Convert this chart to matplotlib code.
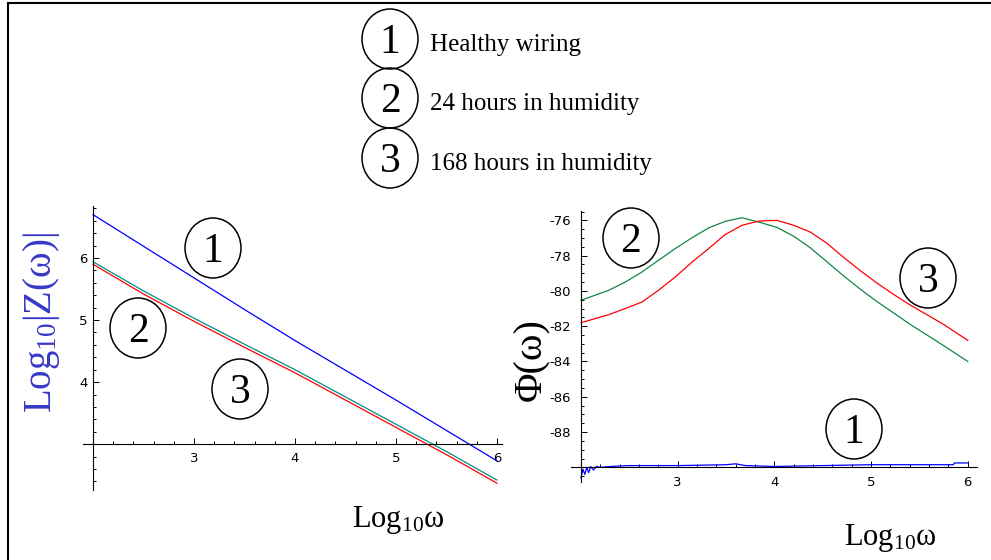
import matplotlib.pyplot as plt
import numpy as np
from matplotlib.patches import Ellipse
from matplotlib.ticker import MultipleLocator

plt.rcParams['axes.unicode_minus'] = False
plt.rcParams['mathtext.fontset'] = 'custom'
plt.rcParams['mathtext.rm'] = 'Liberation Serif'
plt.rcParams['mathtext.it'] = 'Liberation Serif:italic'

# magnitude plot, Log10|Z| vs Log10 w
mag_x = [2.0, 2.5, 3.0, 3.5, 4.0, 4.5, 5.0, 5.5, 6.0]
mag_healthy = [6.70, 6.19, 5.68, 5.17, 4.67, 4.19, 3.71, 3.22, 2.73]
mag_24h = [5.94, 5.47, 5.03, 4.61, 4.20, 3.76, 3.32, 2.88, 2.42]
mag_168h = [5.90, 5.42, 4.98, 4.56, 4.15, 3.71, 3.27, 2.83, 2.37]

# phase plot
ph_x = [2.0, 2.285, 2.458, 2.63, 2.80, 2.975, 3.15, 3.32, 3.49, 3.665, 3.84,
        4.027, 4.20, 4.37, 4.544, 4.716, 4.888, 5.06, 5.233, 5.405, 5.578,
        5.75, 6.0]
ph_24h = [-80.53, -79.97, -79.5, -78.93, -78.27, -77.6, -76.98, -76.43, -76.06,
          -75.85, -76.1, -76.4, -76.9, -77.55, -78.35, -79.15, -79.9, -80.6,
          -81.25, -81.9, -82.5, -83.1, -84.0]
ph_168h = [-81.8, -81.35, -81.0, -80.63, -79.97, -79.21, -78.36, -77.6, -76.81,
           -76.28, -76.04, -76.0, -76.28, -76.66, -77.3, -78.1, -78.85, -79.55,
           -80.2, -80.8, -81.35, -81.9, -82.8]
ph_hx = [2.0, 2.02, 2.04, 2.06, 2.08, 2.10, 2.13, 2.16, 2.2, 2.3, 2.5, 3.0,
         3.5, 3.6, 3.7, 4.0, 4.5, 5.0, 5.5, 5.85, 5.86, 6.0]
ph_healthy = [-90.6, -90.1, -90.4, -90.0, -90.3, -89.95, -90.15, -89.95, -90.0,
              -89.95, -89.9, -89.9, -89.85, -89.8, -89.9, -89.95, -89.9, -89.85,
              -89.85, -89.85, -89.75, -89.75]

legend_labels = ['Healthy wiring', '24 hours in humidity', '168 hours in humidity']

W, H = 991, 560
fig = plt.figure(figsize=(W / 100, H / 100), dpi=100)


def mathematica_axes(ax, x0, y0, ymajor, yminor):
    for s in ['top', 'right']:
        ax.spines[s].set_visible(False)
    ax.spines['left'].set_position(('data', x0))
    ax.spines['bottom'].set_position(('data', y0))
    for s in ['left', 'bottom']:
        ax.spines[s].set_linewidth(0.8)
    ax.set_xticks([3, 4, 5, 6])
    ax.set_yticks(ymajor)
    ax.xaxis.set_minor_locator(MultipleLocator(0.2))
    ax.yaxis.set_minor_locator(MultipleLocator(yminor))
    ax.tick_params(which='both', direction='in', labelsize=9.5, width=0.7)
    ax.tick_params(which='major', length=4)
    ax.tick_params(which='minor', length=2.5)
    ax.tick_params(axis='x', pad=6)
    ax.tick_params(axis='y', pad=4)
    ax.patch.set_visible(False)


# left axes (pixel box: x 83..502, y 206..490)
ax1 = fig.add_axes([83 / W, (H - 490) / H, 419 / W, 284 / H])
ax1.plot(mag_x, mag_healthy, color='#0000ff', lw=0.9)
ax1.plot(mag_x, mag_24h, color='#008b8b', lw=0.9)
ax1.plot(mag_x, mag_168h, color='#ff0000', lw=0.9)
ax1.set_xlim(1.9, 6.05)
ax1.set_ylim(2.26, 6.84)
mathematica_axes(ax1, 2, 3, [4, 5, 6], 0.2)

# right axes (pixel box: x 571..977, y 211..482)
ax2 = fig.add_axes([571 / W, (H - 482) / H, 406 / W, 271 / H])
ax2.plot(ph_x, ph_24h, color='#118844', lw=0.9)
ax2.plot(ph_x, ph_168h, color='#ff0000', lw=0.9)
ax2.plot(ph_hx, ph_healthy, color='#0000ff', lw=0.9)
ax2.set_xlim(1.897, 6.095)
ax2.set_ylim(-90.83, -75.47)
mathematica_axes(ax2, 2, -90, [-88, -86, -84, -82, -80, -78, -76], 0.5)
ax2.tick_params(axis='y', pad=7)

# overlay in pixel coordinates for frame, circles and labels
ov = fig.add_axes([0, 0, 1, 1], zorder=10)
ov.set_xlim(0, W)
ov.set_ylim(H, 0)
ov.axis('off')
ov.patch.set_visible(False)
ov.plot([8, W], [3, 3], color='black', lw=1.5)
ov.plot([8, 8], [3, H], color='black', lw=1.5)

serif = 'Liberation Serif'


def circle_num(x, y, n):
    ov.add_patch(Ellipse((x, y), 56, 60, fill=False, ec='black', lw=1.1))
    ov.text(x, y + 14, str(n), ha='center', va='baseline', fontsize=30,
            family=serif)


for i, (cy, lab) in enumerate(zip([39, 98, 158], legend_labels)):
    circle_num(390, cy, i + 1)
    ov.text(430, cy + 12, lab, ha='left', va='baseline', fontsize=18, family=serif)

circle_num(213, 248, 1)
circle_num(138, 328, 2)
circle_num(240, 389, 3)
circle_num(631, 238, 2)
circle_num(928, 278, 3)
circle_num(854, 429, 1)

ov.text(42, 323, r'$\mathrm{Log_{10}|Z(ω)|}$', rotation=90, ha='center',
        va='center', fontsize=28, color='#3838c8')
ov.text(532, 360, 'Φ(ω)', rotation=90, ha='center', va='center',
        fontsize=29, family=serif)
ov.text(398, 527, r'$\mathrm{Log_{10}ω}$', ha='center', va='baseline', fontsize=22)
ov.text(890, 545, r'$\mathrm{Log_{10}ω}$', ha='center', va='baseline', fontsize=22)

fig.savefig('out.png', dpi=100)
